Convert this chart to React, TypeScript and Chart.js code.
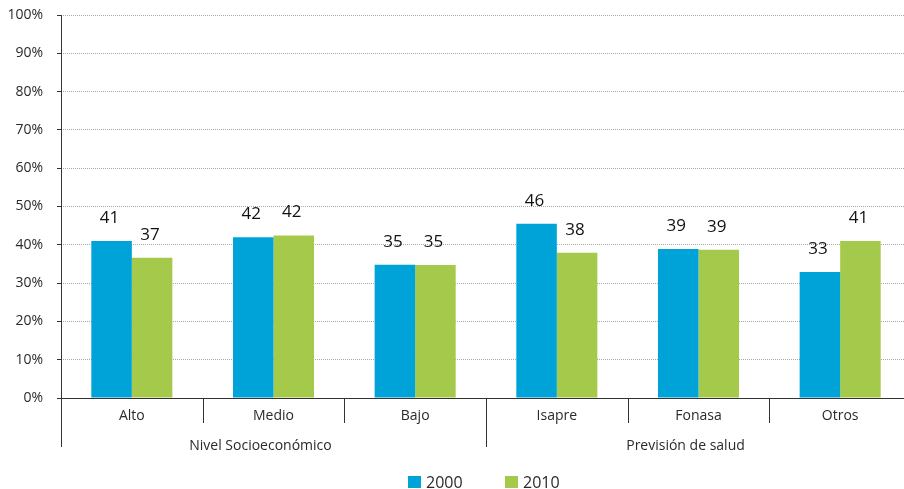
import React, { useEffect, useRef } from "react";
import { Chart, registerables } from "chart.js";

Chart.register(...registerables);

const categories = ["Alto", "Medio", "Bajo", "Isapre", "Fonasa", "Otros"];
const groups = ["Nivel Socioeconómico", "Previsión de salud"];
const groupSizes = [3, 3];
const seriesNames = ["2000", "2010"];
const values2000 = [41.0, 42.0, 34.8, 45.5, 38.9, 32.9];
const values2010 = [36.6, 42.4, 34.7, 37.9, 38.7, 41.0];
const yTicks = [0, 10, 20, 30, 40, 50, 60, 70, 80, 90, 100];

const BLUE = "#00A3D7";
const GREEN = "#A5C94A";
const TEXT = "#2a2a2a";
const FONT = "'Open Sans', 'Noto Sans', sans-serif";

const overlayPlugin = {
  id: "overlay",
  afterDatasetsDraw(chart: any) {
    const { ctx, chartArea, scales } = chart;
    const x = scales.x;
    const left = Math.round(chartArea.left);
    const bottom = Math.round(chartArea.bottom);
    ctx.save();
    // data labels
    ctx.font = `17px ${FONT}`;
    ctx.fillStyle = "#111";
    ctx.textAlign = "center";
    ctx.textBaseline = "middle";
    chart.data.datasets.forEach((ds: any, di: number) => {
      const meta = chart.getDatasetMeta(di);
      meta.data.forEach((bar: any, i: number) => {
        ctx.fillText(String(Math.round(ds.data[i])), bar.x - 2, bar.y - 23);
      });
    });
    // axes lines
    ctx.strokeStyle = "#333";
    ctx.lineWidth = 1;
    ctx.beginPath();
    ctx.moveTo(left + 0.5, Math.round(chartArea.top));
    ctx.lineTo(left + 0.5, bottom + 49);
    ctx.moveTo(left, bottom + 0.5);
    ctx.lineTo(chartArea.right, bottom + 0.5);
    ctx.stroke();
    // dividers
    const groupEnds: number[] = [];
    let acc = 0;
    groupSizes.forEach((s) => {
      acc += s;
      groupEnds.push(acc);
    });
    ctx.beginPath();
    for (let i = 1; i < categories.length; i++) {
      const px = Math.round((x.getPixelForValue(i - 1) + x.getPixelForValue(i)) / 2) + 0.5;
      const isGroup = groupEnds.includes(i);
      ctx.moveTo(px, bottom);
      ctx.lineTo(px, bottom + (isGroup ? 49 : 25));
    }
    ctx.stroke();
    // group labels
    ctx.font = `14px ${FONT}`;
    ctx.fillStyle = TEXT;
    let start = 0;
    groups.forEach((g, gi) => {
      const end = start + groupSizes[gi] - 1;
      const cx = (x.getPixelForValue(start) + x.getPixelForValue(end)) / 2 - 13;
      ctx.fillText(g, cx, bottom + 48);
      start = end + 1;
    });
    // legend
    const legendX = [408, 505];
    ctx.font = `16px ${FONT}`;
    ctx.textAlign = "left";
    chart.data.datasets.forEach((ds: any, di: number) => {
      ctx.fillStyle = ds.backgroundColor;
      ctx.fillRect(legendX[di], 476, 13, 12);
      ctx.fillStyle = TEXT;
      ctx.fillText(ds.label, legendX[di] + 18, 483);
    });
    ctx.restore();
  },
};

export default function App() {
  const ref = useRef<HTMLCanvasElement>(null);
  useEffect(() => {
    if (!ref.current) return;
    const chart = new Chart(ref.current, {
      type: "bar",
      data: {
        labels: categories,
        datasets: [
          { label: seriesNames[0], data: values2000, backgroundColor: BLUE, categoryPercentage: 0.572, barPercentage: 1 },
          { label: seriesNames[1], data: values2010, backgroundColor: GREEN, categoryPercentage: 0.572, barPercentage: 1 },
        ],
      },
      options: {
        responsive: false,
        animation: false,
        layout: { padding: { top: 15, right: 1, left: 0, bottom: 0 } },
        plugins: { legend: { display: false }, tooltip: { enabled: false } },
        scales: {
          x: {
            grid: { display: false, drawTicks: false },
            border: { display: false },
            ticks: { color: TEXT, font: { family: FONT, size: 14 }, padding: 10, maxRotation: 0 },
            afterFit: (s: any) => {
              s.height = 91;
              s.paddingLeft = 0;
              s.paddingRight = 0;
            },
          },
          y: {
            min: 0,
            max: 100,
            afterBuildTicks: (s: any) => {
              s.ticks = yTicks.map((v) => ({ value: v }));
            },
            grid: { color: "#a8a8a8", tickColor: "#333", tickLength: 4, tickBorderDash: [] },
            border: { display: false, dash: [1, 1] },
            ticks: {
              color: TEXT,
              font: { family: FONT, size: 14 },
              padding: 14,
              callback: (v: any) => v + "%",
            },
            afterFit: (s: any) => {
              s.width = 61;
              s.paddingTop = 0;
              s.paddingBottom = 0;
            },
          },
        },
      },
      plugins: [overlayPlugin],
    });
    return () => chart.destroy();
  }, []);
  return (
    <div style={{ position: "fixed", left: 0, top: 0, width: 904, height: 489, overflow: "hidden", background: "#fff" }}>
      <canvas ref={ref} width={912} height={489} style={{ display: "block" }} />
    </div>
  );
}
